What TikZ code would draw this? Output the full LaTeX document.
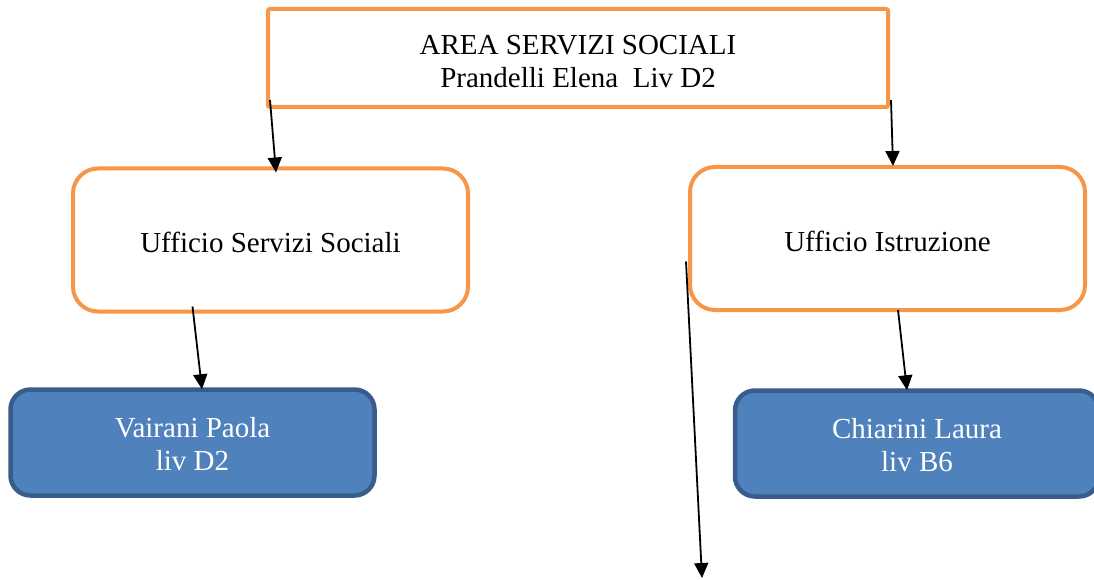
\documentclass[tikz,border=0pt]{standalone}
\usepackage{fontspec}
\setmainfont{Liberation Serif}
\usetikzlibrary{arrows.meta}
\definecolor{orng}{HTML}{F79646}
\definecolor{bfill}{HTML}{4F81BD}
\definecolor{bdraw}{HTML}{385D8A}
\begin{document}
\begin{tikzpicture}[x=1pt,y=-1pt,
  txt/.style={align=center,inner sep=0pt,font=\fontsize{29}{33}\selectfont},
  topbox/.style={draw=orng,line width=4pt,rounded corners=2pt,minimum width=620pt,minimum height=98pt,inner sep=0pt},
  ubox/.style={draw=orng,line width=4pt,rounded corners=25pt,fill=white,minimum width=395pt,minimum height=143pt,inner sep=0pt},
  pbox/.style={draw=bdraw,fill=bfill,line width=4.5pt,rounded corners=20pt,minimum width=364pt,minimum height=106pt,inner sep=0pt},
  arr/.style={line width=1.8pt,-{Triangle[length=15pt,width=14pt]}}]
\useasboundingbox (0,0) rectangle (1094,580);
\fill[white] (0,0) rectangle (1094,580);
\node[topbox,label={[txt,yshift=-4pt]center:AREA SERVIZI SOCIALI\\Prandelli Elena\ \ Liv D2}] (top) at (578,58) {};
\node[ubox,label={[txt,yshift=-2pt]center:Ufficio Servizi Sociali}] (ssoc) at (270.5,240) {};
\node[ubox,label={[txt,yshift=-3pt]center:Ufficio Istruzione}] (istr) at (887.5,238.5) {};
\node[pbox,label={[txt,text=white,yshift=-1.5pt]center:Vairani Paola\\liv D2}] (vair) at (192.5,442.5) {};
\node[pbox,label={[txt,text=white,yshift=-2pt]center:Chiarini Laura\\liv B6}] (chia) at (917,443.5) {};
\coordinate (bottomend) at (702,578);
\draw[arr] ([xshift=4pt,yshift=9pt]top.south west) -- ([xshift=205pt,yshift=-6pt]ssoc.north west);
\draw[arr] ([xshift=1pt,yshift=9pt]top.south east) -- ([xshift=5.5pt,yshift=-1pt]istr.north);
\draw[arr] ([xshift=-78pt,yshift=7pt]ssoc.south) -- ([xshift=9.5pt,yshift=-2pt]vair.north);
\draw[arr] ([xshift=10.5pt,yshift=2pt]istr.south) -- ([xshift=-10pt,yshift=-2pt]chia.north);
\draw[arr] ([xshift=-2pt,yshift=-23pt]istr.west) -- (bottomend);
\end{tikzpicture}
\end{document}
